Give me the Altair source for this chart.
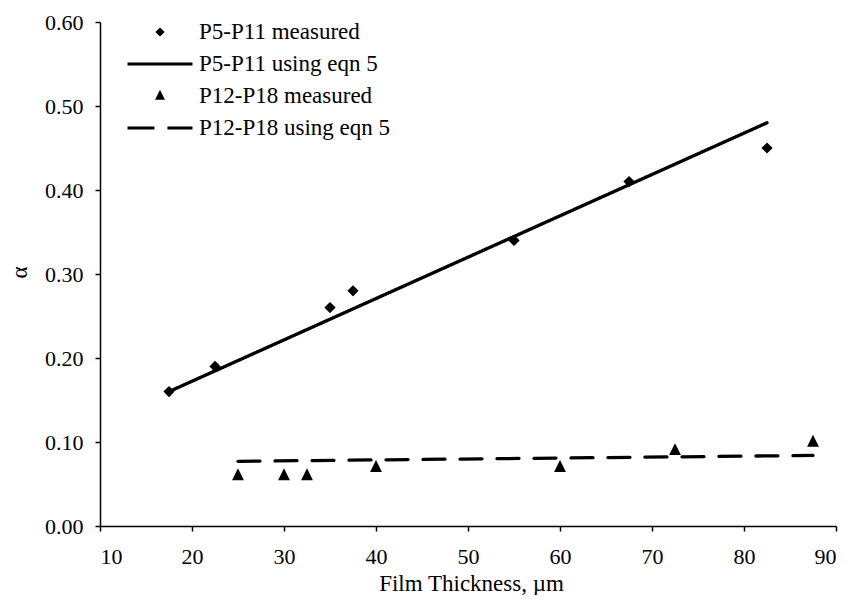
import altair as alt
import pandas as pd

# ---- data ----
series_names = ["P5-P11 measured", "P5-P11 using eqn 5",
                "P12-P18 measured", "P12-P18 using eqn 5"]

p5_x = [17.5, 22.5, 35, 37.5, 55, 67.5, 82.5]
p5_y = [0.16, 0.19, 0.26, 0.28, 0.34, 0.41, 0.45]

p12_x = [25, 30, 32.5, 40, 60, 72.5, 87.5]
p12_y = [0.06, 0.06, 0.06, 0.07, 0.07, 0.09, 0.10]

p5_fit_x = [17.5, 82.5]
p5_fit_y = [0.16, 0.48]
p12_fit_x = [25, 87.5]
p12_fit_y = [0.077, 0.084]

x_ticks = [10, 20, 30, 40, 50, 60, 70, 80, 90]
y_ticks = [0.0, 0.1, 0.2, 0.3, 0.4, 0.5, 0.6]

points = pd.DataFrame({
    "x": p5_x + p12_x,
    "y": p5_y + p12_y,
    "series": [series_names[0]] * len(p5_x) + [series_names[2]] * len(p12_x),
})
lines = pd.DataFrame({
    "x": p5_fit_x + p12_fit_x,
    "y": p5_fit_y + p12_fit_y,
    "series": [series_names[1]] * len(p5_fit_x) + [series_names[3]] * len(p12_fit_x),
})

FONT = "Liberation Serif, Times New Roman, serif"
AXIS_FS = 22
LEG_FS = 23

# symbol paths (legend symbols extend beyond the unit box so rows stay compact)
diamond = "M0,-0.154L0.154,0L0,0.154L-0.154,0Z"
triangle = "M0,-0.17L0.154,0.14L-0.154,0.14Z"
solid = "M-2,0H2"
dashed = "M-2,0H-0.34M0.46,0H2"

x_enc = alt.X("x:Q",
              scale=alt.Scale(domain=[10, 90], nice=False, zero=False),
              axis=alt.Axis(values=x_ticks, title="Film Thickness, µm",
                            labelPadding=15, titleFontSize=23,
                            titleX=371, titleY=64, titleBaseline="alphabetic"))
y_enc = alt.Y("y:Q",
              scale=alt.Scale(domain=[0, 0.6], nice=False),
              axis=alt.Axis(values=y_ticks, format=".2f", title="α",
                            labelPadding=12, titleFontSize=23,
                            titleX=-81, titleY=250, titleAngle=-90,
                            titleAlign="center", titleBaseline="middle"))

pts = alt.Chart(points).mark_point(
    filled=True, fill="black", stroke="black", strokeWidth=3,
    opacity=1, size=2070,
).encode(
    x=x_enc,
    y=y_enc,
    shape=alt.Shape(
        "series:N",
        scale=alt.Scale(domain=series_names, range=[diamond, solid, triangle, dashed]),
        legend=alt.Legend(
            title=None, orient="none", legendX=42, legendY=-8,
            direction="vertical", symbolSize=1056, symbolOffset=0,
            symbolStrokeWidth=3, symbolOpacity=1,
            labelOffset=21, labelFont=FONT, labelFontSize=LEG_FS, labelColor="black",
            labelLimit=400, padding=0, rowPadding=2,
        ),
    ),
)

ln = alt.Chart(lines).mark_line(color="black", strokeWidth=3.3, strokeCap="round").encode(
    x=x_enc,
    y=y_enc,
    strokeDash=alt.StrokeDash(
        "series:N",
        scale=alt.Scale(domain=[series_names[1], series_names[3]], range=[[1, 0], [22, 15]]),
        legend=None,
    ),
)

chart = alt.layer(ln, pts).properties(
    width=736, height=504,
    autosize=alt.AutoSizeParams(type="none"),
    padding={"left": 92, "top": 14, "right": 12, "bottom": 69},
    background="white",
).configure_view(stroke=None).configure_axis(
    grid=False,
    domainColor="black", domainWidth=1.5,
    tickColor="black", tickWidth=1.5, tickSize=5,
    labelFont=FONT, labelFontSize=AXIS_FS, labelColor="black",
    titleFont=FONT, titleFontWeight="normal", titleColor="black",
)

chart.save("out.html", embed_options={"renderer": "svg", "actions": False})
